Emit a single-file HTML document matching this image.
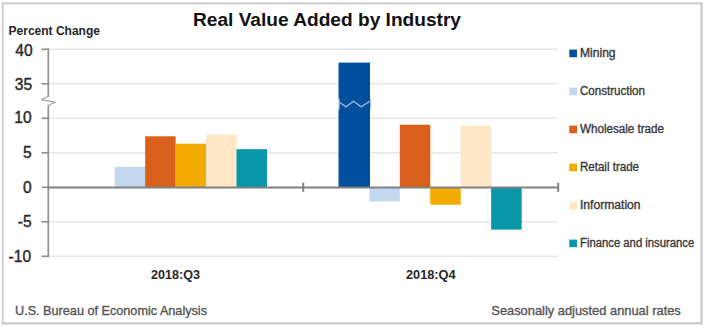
<!DOCTYPE html>
<html><head><meta charset="utf-8">
<style>
html,body{margin:0;padding:0;background:#fff;}
body{width:710px;height:330px;overflow:hidden;}
svg{display:block;}
text{font-family:"Liberation Sans",sans-serif;}
</style></head>
<body>
<svg width="710" height="330" viewBox="0 0 710 330">
<rect x="0" y="0" width="710" height="330" fill="#fff"/>
<!-- frame -->
<g stroke="#c9c9c9" fill="none">
<line x1="2.7" y1="2.4" x2="2.7" y2="324.4" stroke-width="1.8"/>
<line x1="1.8" y1="3.3" x2="702.6" y2="3.3" stroke-width="1.8"/>
<line x1="701.5" y1="2.4" x2="701.5" y2="324.5" stroke-width="2.2"/>
<line x1="1.8" y1="323.4" x2="702.6" y2="323.4" stroke-width="2.2"/>
</g>
<!-- title -->
<text x="193" y="26.4" font-size="18" font-weight="bold" fill="#111" textLength="268" lengthAdjust="spacingAndGlyphs">Real Value Added by Industry</text>
<text x="8.5" y="35" font-size="13" font-weight="bold" fill="#262626" textLength="91.5" lengthAdjust="spacingAndGlyphs">Percent Change</text>
<!-- gridlines -->
<g stroke="#e6e6e6" stroke-width="1.6">
<line x1="48" y1="49.3" x2="558" y2="49.3"/>
<line x1="48" y1="83.8" x2="558" y2="83.8"/>
<line x1="48" y1="118.3" x2="558" y2="118.3"/>
<line x1="48" y1="152.8" x2="558" y2="152.8"/>
<line x1="48" y1="221.8" x2="558" y2="221.8"/>
<line x1="48" y1="256.3" x2="558" y2="256.3"/>
</g>
<!-- bars Q3 -->
<rect x="114.70" y="167.0" width="30.50" height="20.3" fill="#c3d7ee"/>
<rect x="145.15" y="136.3" width="30.50" height="51.0" fill="#d9601a"/>
<rect x="175.60" y="143.7" width="30.50" height="43.6" fill="#f2a900"/>
<rect x="206.05" y="134.6" width="30.50" height="52.7" fill="#ffe7c6"/>
<rect x="236.50" y="149.2" width="30.50" height="38.1" fill="#0797a8"/>
<!-- bars Q4 -->
<rect x="338.5" y="62.6" width="31.5" height="124.8" fill="#014f9d"/>
<rect x="369.35" y="187.3" width="30.50" height="14.1" fill="#c3d7ee"/>
<rect x="399.80" y="124.7" width="30.50" height="62.6" fill="#d9601a"/>
<rect x="430.25" y="187.3" width="30.50" height="17.4" fill="#f2a900"/>
<rect x="460.70" y="125.6" width="30.50" height="61.7" fill="#ffe7c6"/>
<rect x="491.15" y="187.3" width="30.50" height="42.3" fill="#0797a8"/>
<!-- mining break -->
<rect x="338.3" y="98.6" width="1.1" height="10.8" fill="#fff"/>
<rect x="370" y="99" width="0.9" height="10.3" fill="#8fabd3"/>
<polyline points="339.3,102.1 346,106.8 353.5,101.1 361.2,106.8 370.3,100.8" fill="none" stroke="#98b2d6" stroke-width="1.4"/>
<!-- axis -->
<g stroke="#8e9292" stroke-width="1.7" fill="none">
<line x1="48.3" y1="48.3" x2="48.3" y2="96.8"/>
<line x1="48.3" y1="105.2" x2="48.3" y2="257.2"/>
<line x1="41.5" y1="49.3" x2="48.3" y2="49.3"/>
<line x1="41.5" y1="83.8" x2="48.3" y2="83.8"/>
<line x1="41.5" y1="118.3" x2="48.3" y2="118.3"/>
<line x1="41.5" y1="152.8" x2="48.3" y2="152.8"/>
<line x1="41.5" y1="187.3" x2="48.3" y2="187.3"/>
<line x1="41.5" y1="221.8" x2="48.3" y2="221.8"/>
<line x1="41.5" y1="256.3" x2="48.3" y2="256.3"/>
</g>
<polyline points="48.3,96.5 41.5,99.6 55,102.2 48.3,105.5" fill="none" stroke="#9a9e9e" stroke-width="1.1" stroke-linejoin="round" stroke-linecap="round"/>
<g stroke="#808080" stroke-width="2" fill="none">
<line x1="48" y1="187.5" x2="558.5" y2="187.5"/>
<line x1="303.2" y1="182.7" x2="303.2" y2="191.8"/>
<line x1="558.2" y1="182.7" x2="558.2" y2="191.8"/>
</g>
<!-- y labels -->
<g font-size="15.6" fill="#2a2a2a" stroke="#2a2a2a" stroke-width="0.4" text-anchor="end">
<text x="32.6" y="56.45">40</text>
<text x="32.1" y="89.75">35</text>
<text x="31.6" y="123.45">10</text>
<text x="31.6" y="158.05">5</text>
<text x="31.6" y="192.85">0</text>
<text x="31.6" y="227.25">-5</text>
<text x="31.1" y="261.65">-10</text>
</g>
<!-- category labels -->
<text x="151" y="279.3" font-size="13" font-weight="bold" fill="#262626" textLength="49" lengthAdjust="spacingAndGlyphs">2018:Q3</text>
<text x="406" y="279.3" font-size="13" font-weight="bold" fill="#262626" textLength="49.6" lengthAdjust="spacingAndGlyphs">2018:Q4</text>
<!-- legend -->
<rect x="569.3" y="49.6" width="7.7" height="7.6" fill="#014f9d"/>
<rect x="569.3" y="87.6" width="7.7" height="7.6" fill="#c3d7ee"/>
<rect x="569.3" y="125.6" width="7.7" height="7.6" fill="#d9601a"/>
<rect x="569.3" y="163.6" width="7.7" height="7.6" fill="#f2a900"/>
<rect x="569.3" y="201.6" width="7.7" height="7.6" fill="#ffe7c6"/>
<rect x="569.3" y="239.6" width="7.7" height="7.6" fill="#0797a8"/>
<g font-size="12" fill="#383838" stroke="#383838" stroke-width="0.35">
<text x="580" y="57.4" textLength="35.6" lengthAdjust="spacingAndGlyphs">Mining</text>
<text x="580" y="95.3" textLength="65" lengthAdjust="spacingAndGlyphs">Construction</text>
<text x="580" y="132.9" textLength="84" lengthAdjust="spacingAndGlyphs">Wholesale trade</text>
<text x="580" y="170.8" textLength="59" lengthAdjust="spacingAndGlyphs">Retail trade</text>
<text x="580" y="208.8" textLength="60.6" lengthAdjust="spacingAndGlyphs">Information</text>
<text x="580" y="246.9" textLength="114.3" lengthAdjust="spacingAndGlyphs">Finance and insurance</text>
</g>
<!-- footer -->
<g font-size="13" fill="#555" stroke="#555" stroke-width="0.35">
<text x="15" y="314.8" textLength="192" lengthAdjust="spacingAndGlyphs">U.S. Bureau of Economic Analysis</text>
<text x="491.3" y="314.8" textLength="189.5" lengthAdjust="spacingAndGlyphs">Seasonally adjusted annual rates</text>
</g>
</svg>
</body></html>
